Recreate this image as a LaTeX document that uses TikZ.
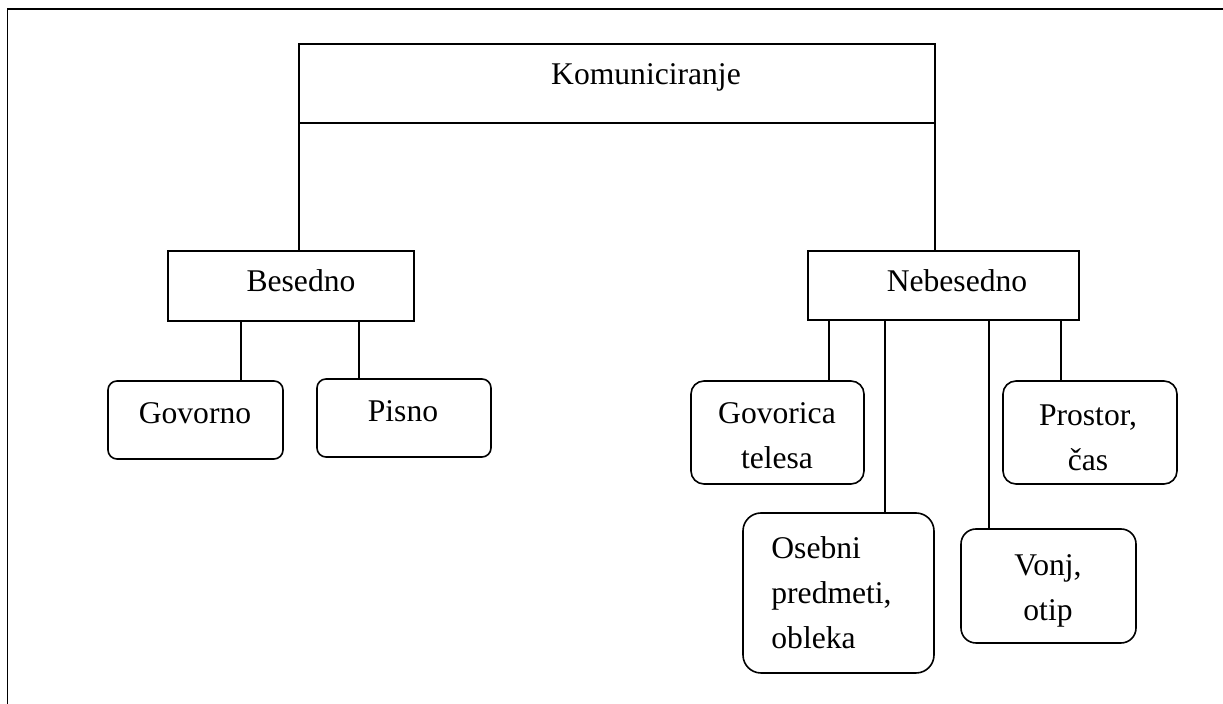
\documentclass[tikz,border=0pt]{standalone}
\usepackage{fontspec}
\setmainfont{Liberation Serif}
\usetikzlibrary{fit}
\begin{document}
\begin{tikzpicture}[x=0.5pt,y=-0.5pt,
  box/.style={draw, line width=0.8pt, inner sep=0pt, outer sep=0pt},
  rbox/.style={box, rounded corners=#1},
  link/.style={draw, line width=0.75pt},
  lbl/.style={inner sep=0pt, anchor=base, font=\fontsize{15.8}{22.5}\selectfont},
  mlbl/.style={lbl, text width=#1, align=center},
  frame/.style={line width=0.85pt}]
\useasboundingbox (0,0) rectangle (1223,704);
\fill[white] (0,0) rectangle (1223,704);
% outer frame (only left and top edges fall inside the page)
\draw[frame] (7.5,720) -- (7.5,9) -- (1240,9);

% boxes
\node[box, fit={(299,44) (935,123)}] (kom) {};
\node[box, fit={(168,251) (414,321)}] (bes) {};
\node[box, fit={(808,251) (1079,320)}] (neb) {};
\node[rbox=4.5pt, fit={(108,381) (283,459)}] (gov) {};
\node[rbox=4.5pt, fit={(317,379) (491,457)}] (pis) {};
\node[rbox=6.5pt, fit={(691,381) (864,484)}] (gtel) {};
\node[rbox=9pt, fit={(743,513) (934,673)}] (ose) {};
\node[rbox=7.5pt, fit={(961,529) (1136,643)}] (von) {};
\node[rbox=6.5pt, fit={(1003,381) (1177,484)}] (pro) {};

% texts
\node[lbl] (kom-t) at (646,85) {Komuniciranje};
\node[lbl] (bes-t) at (301,292) {Besedno};
\node[lbl] (neb-t) at (957,292) {Nebesedno};
\node[lbl] (gov-t) at (195,424) {Govorno};
\node[lbl] (pis-t) at (403,422) {Pisno};
\node[mlbl=80pt] (gtel-t) at (777,424) {Govorica\\telesa};
\node[lbl, anchor=base west, text width=80pt, align=left] (ose-t) at (771,559) {Osebni\\predmeti,\\obleka};
\node[mlbl=80pt] (von-t) at (1048,576) {Vonj,\\otip};
\node[mlbl=80pt] (pro-t) at (1088,426) {Prostor,\\čas};

% connector positions
\coordinate (xg) at (241,0);
\coordinate (xp) at (359,0);
\coordinate (xgt) at (829,0);
\coordinate (xo) at (885,0);
\coordinate (xv) at (989,0);
\coordinate (xpr) at (1061,0);

% connectors
\draw[link] (kom.south west) -- (bes.north -| kom.south west);
\draw[link] (kom.south east) -- (neb.north -| kom.south east);
\draw[link] (bes.south -| xg) -- (gov.north -| xg);
\draw[link] (bes.south -| xp) -- (pis.north -| xp);
\draw[link] (neb.south -| xgt) -- (gtel.north -| xgt);
\draw[link] (neb.south -| xo) -- (ose.north -| xo);
\draw[link] (neb.south -| xv) -- (von.north -| xv);
\draw[link] (neb.south -| xpr) -- (pro.north -| xpr);
\end{tikzpicture}
\end{document}
